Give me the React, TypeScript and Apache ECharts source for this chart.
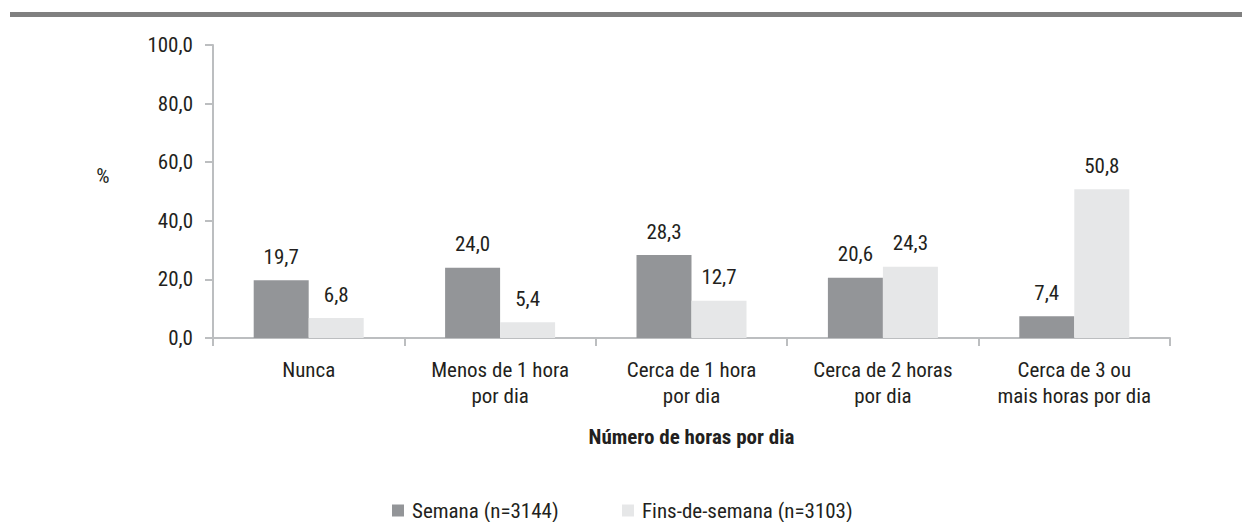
import React, { useEffect, useRef } from "react";
import * as echarts from "echarts";

const categories = [
  "Nunca",
  "Menos de 1 hora\npor dia",
  "Cerca de 1 hora\npor dia",
  "Cerca de 2 horas\npor dia",
  "Cerca de 3 ou\nmais horas por dia",
];
const semanaName = "Semana (n=3144)";
const fimName = "Fins-de-semana (n=3103)";
const semana = [19.7, 24.0, 28.3, 20.6, 7.4];
const fimSemana = [6.8, 5.4, 12.7, 24.3, 50.8];
const yTicks = { min: 0, max: 100, interval: 20 };
const xAxisTitle = "Número de horas por dia";
const yAxisTitle = "%";

const FONT = "'Liberation Sans Narrow', 'Roboto Condensed', 'DejaVu Sans Condensed', 'Liberation Sans', sans-serif";
const TEXT = "#231f20";
const DARK = "#939598";
const LIGHT = "#e6e7e8";
const AXIS = "#bcbec0";

const fmt = (v: number) => v.toFixed(1).replace(".", ",");

export default function App() {
  const ref = useRef<HTMLDivElement>(null);
  useEffect(() => {
    if (!ref.current) return;
    const chart = echarts.init(ref.current, undefined, { renderer: "svg" });
    const labelStyle = {
      show: true,
      position: "top",
      distance: 13,
      color: TEXT,
      fontFamily: FONT,
      fontSize: 21,
      formatter: (p: any) => fmt(p.value),
    };
    chart.setOption({
      animation: false,
      backgroundColor: "#ffffff",
      textStyle: { fontFamily: FONT, color: TEXT },
      grid: { left: 213, right: 72, top: 45, bottom: 184, containLabel: false },
      graphic: [
        {
          type: "rect",
          shape: { x: 10, y: 12, width: 1232, height: 5 },
          style: { fill: "#808080" },
        },
        {
          type: "text",
          x: 103,
          y: 176,
          style: {
            text: yAxisTitle,
            fontFamily: FONT,
            fontSize: 21,
            fill: TEXT,
            align: "center",
            verticalAlign: "middle",
          },
        },
      ],
      legend: [
        {
          data: [semanaName],
          left: 392,
          top: 500,
          padding: 0,
          itemWidth: 12,
          itemHeight: 12,
          icon: "rect",
          textStyle: { fontFamily: FONT, fontSize: 21, color: TEXT, padding: [0, 0, 0, 3] },
        },
        {
          data: [fimName],
          left: 622,
          top: 500,
          padding: 0,
          itemWidth: 12,
          itemHeight: 12,
          icon: "rect",
          textStyle: { fontFamily: FONT, fontSize: 21, color: TEXT, padding: [0, 0, 0, 3] },
        },
      ],
      xAxis: {
        type: "category",
        data: categories,
        name: xAxisTitle,
        nameLocation: "middle",
        nameGap: 88,
        nameTextStyle: { fontFamily: FONT, fontSize: 21, fontWeight: "bold", color: TEXT },
        axisLine: { show: true, lineStyle: { color: AXIS, width: 2 } },
        axisTick: { show: true, length: 8, lineStyle: { color: AXIS, width: 2 } },
        axisLabel: {
          margin: 19,
          interval: 0,
          fontFamily: FONT,
          fontSize: 21,
          lineHeight: 26,
          color: TEXT,
        },
        splitLine: { show: false },
      },
      yAxis: {
        type: "value",
        min: yTicks.min,
        max: yTicks.max,
        interval: yTicks.interval,
        axisLine: { show: true, lineStyle: { color: AXIS, width: 2 } },
        axisTick: { show: true, length: 8, lineStyle: { color: AXIS, width: 2 } },
        axisLabel: {
          margin: 20,
          fontFamily: FONT,
          fontSize: 21,
          color: TEXT,
          formatter: (v: number) => fmt(v),
        },
        splitLine: { show: false },
      },
      series: [
        {
          name: semanaName,
          type: "bar",
          data: semana,
          barWidth: 55,
          barGap: "0%",
          itemStyle: { color: DARK },
          label: labelStyle,
        },
        {
          name: fimName,
          type: "bar",
          data: fimSemana,
          barWidth: 55,
          barGap: "0%",
          itemStyle: { color: LIGHT },
          label: labelStyle,
        },
      ],
    });
    return () => chart.dispose();
  }, []);
  return (
    <div
      ref={ref}
      style={{ position: "absolute", left: 0, top: 0, width: 1242, height: 522 }}
    />
  );
}
